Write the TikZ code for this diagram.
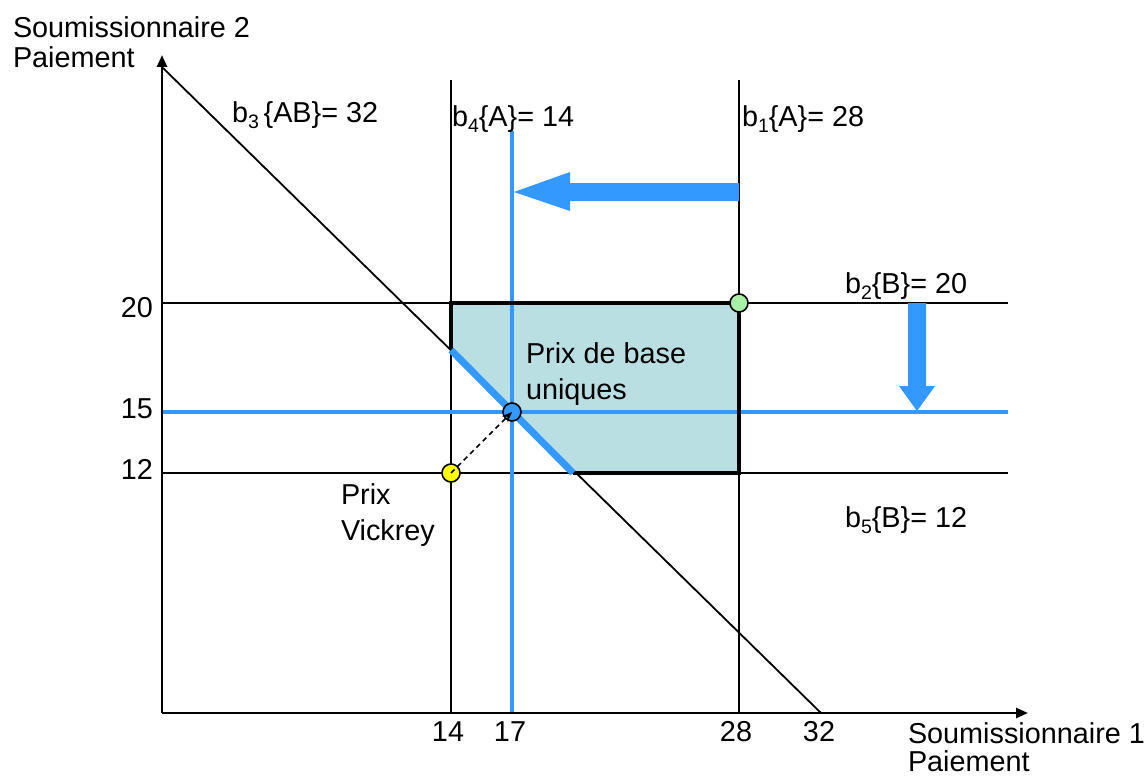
\documentclass[tikz,border=0pt]{standalone}
\usepackage{fontspec}
\setmainfont{Liberation Sans}
\usetikzlibrary{arrows.meta}
\definecolor{bblue}{HTML}{3399FF}
\definecolor{rfill}{HTML}{B9DFE3}
\definecolor{pgreen}{HTML}{A8F0A8}
\definecolor{pyellow}{HTML}{FFFF00}
\newcommand\sbs[1]{\raisebox{-6pt}{\fontsize{19.5}{19.5}\selectfont #1}}
\begin{document}
\begin{tikzpicture}[x=1pt,y=-1pt,
  lbl/.style={inner sep=0pt,outer sep=0pt,font=\fontsize{28.8}{32}\selectfont},
  thinline/.style={black,line width=1.8pt},
  blueline/.style={bblue,line width=4.6pt},
  axisline/.style={black,line width=2.4pt,-{Triangle[length=12pt,width=10pt]}},
  dot/.style={circle,draw=black,line width=1.6pt,minimum size=18pt,inner sep=0pt}]
\useasboundingbox (0,0) rectangle (1146,781);
% region fill
\fill[rfill] (451,350) -- (451,303) -- (739,303) -- (739,473) -- (573,473) -- cycle;
% coordinates
\coordinate (o) at (162,713);
\coordinate (yt) at (162,55);
\coordinate (xt) at (1028,713);
\coordinate (d1) at (163,68);
\coordinate (d2) at (821,713);
\coordinate (v14a) at (451,80);
\coordinate (v14b) at (451,713);
\coordinate (v28a) at (739,80);
\coordinate (v28b) at (739,713);
\coordinate (h20a) at (162,303);
\coordinate (h20b) at (1008,303);
\coordinate (h12a) at (162,473);
\coordinate (h12b) at (1008,473);
\coordinate (v17a) at (512,131);
\coordinate (v17b) at (512,713);
\coordinate (h15a) at (162,412);
\coordinate (h15b) at (1008,412);
% black lines
\draw[thinline] (v14a) -- (v14b);
\draw[thinline] (v28a) -- (v28b);
\draw[thinline] (h20a) -- (h20b);
\draw[thinline] (h12a) -- (h12b);
\draw[thinline] (d1) -- (d2);
% blue lines
\draw[blueline] (v17a) -- (v17b);
\draw[blueline] (h15a) -- (h15b);
% axes
\draw[axisline] (o) -- (yt);
\draw[axisline] (o) -- (xt);
% thick border
\draw[black,line width=3.5pt,line join=miter] (451,350) -- (451,303) -- (739,303) -- (739,473) -- (573,473);
% thick blue diagonal
\draw[bblue,line width=7pt] (451,350) -- (573,473);
% fat arrows
\fill[bblue] (739,183) -- (570,183) -- (570,172) -- (514,192) -- (570,211) -- (570,201) -- (739,201) -- cycle;
\fill[bblue] (908,303) -- (908,386) -- (899,386) -- (917,411) -- (935,386) -- (926,386) -- (926,303) -- cycle;
% dots
\node[dot,fill=pgreen] (green) at (739,303) {};
\node[dot,fill=bblue] (base) at (512,412) {};
\node[dot,fill=pyellow] (vick) at (451,473) {};
\draw[black,line width=1.5pt,dash pattern=on 5pt off 4pt,-{Stealth[length=10pt,width=8pt]}] (vick.center) -- (base.center);
% texts
\node[lbl,anchor=base west] (s2a) at (13,38) {Soumissionnaire 2};
\node[lbl,anchor=base west] (s2b) at (13,68) {Paiement};
\node[lbl,anchor=base west] (b3) at (232,123) {b\sbs{3}\,\{AB\}= 32};
\node[lbl,anchor=base west] (b4) at (452,127) {b\sbs{4}\{A\}= 14};
\node[lbl,anchor=base west] (b1) at (742,127) {b\sbs{1}\{A\}= 28};
\node[lbl,anchor=base west] (b2) at (845,293) {b\sbs{2}\{B\}= 20};
\node[lbl,anchor=base west] (b5) at (845,527) {b\sbs{5}\{B\}= 12};
\node[lbl,anchor=base west] (pb1) at (526,363) {Prix de base};
\node[lbl,anchor=base west] (pb2) at (526,399) {uniques};
\node[lbl,anchor=base west] (pv1) at (341,504) {Prix};
\node[lbl,anchor=base west] (pv2) at (341,540) {Vickrey};
\node[lbl,anchor=base east] (y20) at (153,317) {20};
\node[lbl,anchor=base east] (y15) at (153,418) {15};
\node[lbl,anchor=base east] (y12) at (153,479) {12};
\node[lbl,anchor=base] (x14) at (448,741) {14};
\node[lbl,anchor=base] (x17) at (510,741) {17};
\node[lbl,anchor=base] (x28) at (736,741) {28};
\node[lbl,anchor=base] (x32) at (819,741) {32};
\node[lbl,anchor=base west] (s1a) at (908,743) {Soumissionnaire 1};
\node[lbl,anchor=base west] (s1b) at (908,771) {Paiement};
\end{tikzpicture}
\end{document}
